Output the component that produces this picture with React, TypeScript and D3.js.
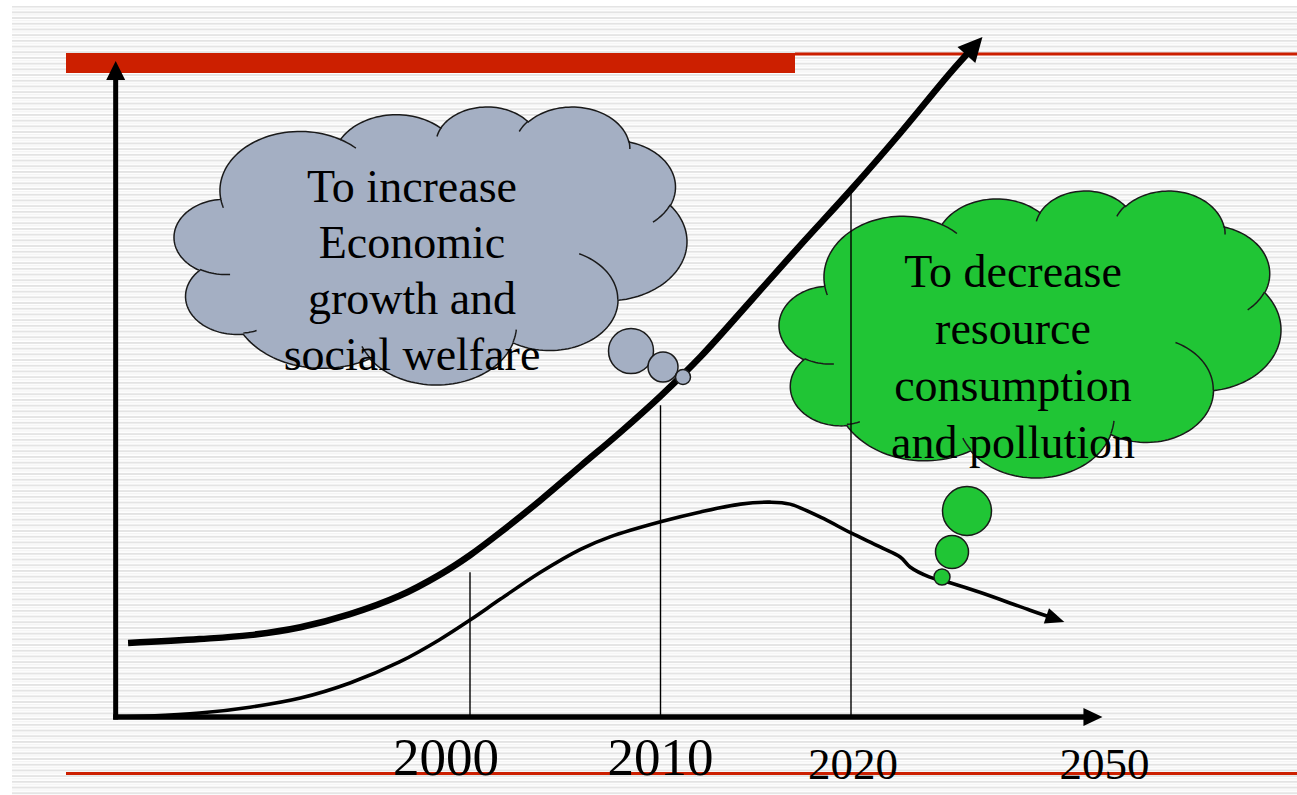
import React from 'react';
import * as d3 from 'd3';

const W = 1297;
const H = 795;

// Upper (thick) curve: economic growth & social welfare
const thickYears = [1982.05, 1985.8, 1988.45, 1991.1, 1993.7, 1996.3, 1998.4, 2000, 2001.6, 2003.7, 2005.8, 2007.9, 2010, 2012.1, 2014.7, 2017.3, 2020, 2022.6, 2025.2, 2026.9];
const thickValues = [11.3, 11.9, 12.5, 13.7, 15.7, 18.5, 21.7, 24.7, 28.2, 33.1, 38.3, 43.5, 49.0, 55.0, 63.4, 71.9, 80.5, 89.2, 98.3, 103.8];

// Lower (thin) curve: resource consumption & pollution
const thinYears = [1981.4, 1983.2, 1985.8, 1988.45, 1991.1, 1993.7, 1996.3, 1998.4, 2000, 2001.6, 2003.7, 2005.8, 2007.35, 2010, 2012.1, 2014.2, 2015.75, 2016.8, 2018.4, 2020, 2021.5, 2022.6, 2023.1, 2024.1, 2025.2, 2026.8, 2029.4, 2031.2];
const thinValues = [0, 0.15, 0.6, 1.5, 2.9, 5.2, 8.4, 11.8, 14.8, 18.0, 22.1, 25.6, 27.5, 29.8, 31.3, 32.5, 32.8, 32.5, 30.5, 28.1, 26.0, 24.4, 22.9, 21.4, 20.5, 19.0, 16.3, 14.5];

// Vertical guide lines
const guideYears = [2000, 2010, 2020];
const guideTops = [22.1, 47.6, 80.5];

// Tick labels
const tickLabels = ['2000', '2010', '2020', '2050'];

// Cloud texts
const grayText = ['To increase', 'Economic', 'growth and', 'social welfare'];
const greenText = ['To decrease', 'resource', 'consumption', 'and pollution'];

// DrawingML preset "cloud" geometry (43200 x 43200 path space)
const CLOUD_START = [3900, 14370];
const CLOUD_ARCS = [
  [6753, 9190, -11429249, 7426832],
  [5333, 7267, -8646143, 5396714],
  [4365, 5945, -8748475, 5983381],
  [4857, 6595, -7859164, 7034504],
  [5333, 7273, -4722533, 6541615],
  [6775, 9220, -2776035, 7816140],
  [5785, 7867, 37501, 6842000],
  [6752, 9215, 1347096, 6910353],
  [7720, 10543, 3974558, 4542661],
  [4360, 5918, -16496525, 8804134],
  [4345, 5945, -14809710, 9151131],
];
const CLOUD_INNER = [
  [4693, 26177, 4345, 5945, 5204520, 1585770],
  [6928, 34899, 4360, 5918, 4416628, 686848],
  [16478, 39090, 6752, 9215, 8257449, 844866],
  [28827, 34751, 6752, 9215, 387196, 959901],
  [34129, 22954, 5785, 7867, -4217541, 4255042],
  [41798, 15354, 5333, 7273, 1819082, 1665090],
  [38324, 5426, 4857, 6595, -824660, 891534],
  [29078, 3952, 4857, 6595, -8950887, 1091722],
  [22141, 4720, 4365, 5945, -9809656, 1061181],
  [14000, 5192, 6753, 9190, -4002417, 739161],
  [4127, 15789, 6753, 9190, 9459261, 711490],
];

function arcPoints(px: number, py: number, wR: number, hR: number, st: number, sw: number): [number, number][] {
  const s = (st / 60000) * Math.PI / 180;
  const e = ((st + sw) / 60000) * Math.PI / 180;
  const t0 = Math.atan2(wR * Math.sin(s), hR * Math.cos(s));
  const cx = px - wR * Math.cos(t0);
  const cy = py - hR * Math.sin(t0);
  const n = Math.max(8, Math.ceil(Math.abs(e - s) / 0.04));
  const pts: [number, number][] = [];
  for (let i = 1; i <= n; i++) {
    const a = s + ((e - s) * i) / n;
    const t = Math.atan2(wR * Math.sin(a), hR * Math.cos(a));
    pts.push([cx + wR * Math.cos(t), cy + hR * Math.sin(t)]);
  }
  return pts;
}

function buildCloud(fx: number, fy: number, fw: number, fh: number) {
  let px = CLOUD_START[0];
  let py = CLOUD_START[1];
  const main: [number, number][] = [[px, py]];
  for (const [wR, hR, st, sw] of CLOUD_ARCS) {
    const pts = arcPoints(px, py, wR, hR, st, sw);
    main.push(...pts);
    [px, py] = pts[pts.length - 1];
  }
  const x0 = d3.min(main, (d) => d[0])!;
  const x1 = d3.max(main, (d) => d[0])!;
  const y0 = d3.min(main, (d) => d[1])!;
  const y1 = d3.max(main, (d) => d[1])!;
  const mx = d3.scaleLinear().domain([x0, x1]).range([fx, fx + fw]);
  const my = d3.scaleLinear().domain([y0, y1]).range([fy, fy + fh]);
  const line = d3.line<[number, number]>().x((d) => mx(d[0])).y((d) => my(d[1]));
  const outline = line(main) + 'Z';
  const inner = CLOUD_INNER.map(([ix, iy, wR, hR, st, sw]) => {
    const start: [number, number] = [ix, iy];
    const pts = arcPoints(ix, iy, wR, hR, st, sw);
    return line([start, ...pts]) as string;
  });
  return { outline, inner };
}

function arrowHead(tip: [number, number], from: [number, number], len: number, half: number) {
  const dx = tip[0] - from[0];
  const dy = tip[1] - from[1];
  const L = Math.hypot(dx, dy);
  const ux = dx / L, uy = dy / L;
  const bx = tip[0] - ux * len, by = tip[1] - uy * len;
  const px = -uy, py = ux;
  return `M${tip[0]},${tip[1]}L${bx + px * half},${by + py * half}L${bx - px * half},${by - py * half}Z`;
}

function curveWithArrow(pts: [number, number][], len: number, half: number) {
  const tip = pts[pts.length - 1];
  const prev = pts[pts.length - 2];
  const dx = tip[0] - prev[0], dy = tip[1] - prev[1];
  const L = Math.hypot(dx, dy);
  const shortened = pts.slice(0, -1);
  shortened.push([tip[0] - (dx / L) * len * 0.6, tip[1] - (dy / L) * len * 0.6]);
  const line = d3.line<[number, number]>().curve(d3.curveCatmullRom.alpha(0.5));
  return { d: line(shortened) as string, head: arrowHead(tip, prev, len, half) };
}

export default function App() {
  const x = d3.scaleLinear().domain([2000, 2020]).range([470, 851]);
  const y = d3.scaleLinear().domain([0, 100]).range([717, 62]);
  const axisStartYear = 1981.4;
  const axisEndYear = 2033.2;

  const ox = x(axisStartYear);
  const oy = y(0);
  const xEnd = x(axisEndYear);
  const yTop = y(100) - 1;

  const thickPts: [number, number][] = thickYears.map((yr, i) => [x(yr), y(thickValues[i])]);
  const thinPts: [number, number][] = thinYears.map((yr, i) => [x(yr), y(thinValues[i])]);
  const thick = curveWithArrow(thickPts, 24, 12);
  const thin = curveWithArrow(thinPts, 19, 8);

  const grayCloud = buildCloud(174, 107, 513, 278);
  const greenCloud = buildCloud(779, 191, 502, 287);

  const labelPos = [
    { x: x(2000) - 24, y: 775, size: 53 },
    { x: x(2010), y: 775, size: 53 },
    { x: x(2020) + 2, y: 779, size: 45 },
    { x: xEnd + 2, y: 779, size: 45 },
  ];

  const font = '"Liberation Serif", "Times New Roman", serif';

  return (
    <svg width={W} height={H} style={{ position: 'absolute', left: 0, top: 0, display: 'block' }}>
      <defs>
        <pattern id="stripes" patternUnits="userSpaceOnUse" width={10} height={5.7}>
          <rect width={10} height={5.7} fill="#ffffff" />
          <rect y={0} width={10} height={1.8} fill="#e3e3e3" />
          <rect y={3.1} width={10} height={1} fill="#f1f1f1" />
        </pattern>
      </defs>
      <rect width={W} height={H} fill="#ffffff" />
      <rect x={12} y={6} width={W - 12} height={H - 6} fill="url(#stripes)" />

      {/* red decoration */}
      <rect x={66} y={53} width={729} height={20} fill="#cc1f00" />
      <line x1={795} x2={W} y1={54} y2={54} stroke="#cc1f00" strokeWidth={3} />
      <line x1={66} x2={W} y1={773.5} y2={773.5} stroke="#cc1f00" strokeWidth={3} />

      {/* curves */}
      <path d={thin.d} fill="none" stroke="#000" strokeWidth={3.6} />
      <path d={thin.head} fill="#000" />
      <path d={thick.d} fill="none" stroke="#000" strokeWidth={6.5} />
      <path d={thick.head} fill="#000" />

      {/* axes */}
      <line x1={ox} x2={ox} y1={oy + 2.5} y2={yTop + 16} stroke="#000" strokeWidth={5} />
      <path d={`M${ox},${yTop}L${ox - 9.5},${yTop + 19}L${ox + 9.5},${yTop + 19}Z`} fill="#000" />
      <line x1={ox - 2.5} x2={xEnd - 16} y1={oy} y2={oy} stroke="#000" strokeWidth={5.5} />
      <path d={`M${xEnd},${oy}L${xEnd - 19},${oy - 9}L${xEnd - 19},${oy + 9}Z`} fill="#000" />

      {/* gray cloud callout */}
      <g stroke="#1a1a1a" strokeWidth={1.5}>
        <path d={grayCloud.outline} fill="#a4afc3" />
        {grayCloud.inner.map((d, i) => (
          <path key={i} d={d} fill="none" />
        ))}
        <circle cx={631} cy={351} r={22.5} fill="#a4afc3" />
        <circle cx={663} cy={367} r={15} fill="#a4afc3" />
        <circle cx={683} cy={377} r={7.5} fill="#a4afc3" />
      </g>

      {/* green cloud callout */}
      <g stroke="#1a1a1a" strokeWidth={1.5}>
        <path d={greenCloud.outline} fill="#20c535" />
        {greenCloud.inner.map((d, i) => (
          <path key={i} d={d} fill="none" />
        ))}
        <circle cx={967} cy={511} r={24.5} fill="#20c535" />
        <circle cx={952} cy={552} r={16.5} fill="#20c535" />
        <circle cx={942} cy={577} r={8} fill="#20c535" />
      </g>

      {/* guide lines */}
      {guideYears.map((yr, i) => (
        <line key={yr} x1={x(yr)} x2={x(yr)} y1={y(guideTops[i])} y2={oy - 2} stroke="#000" strokeWidth={1.4} />
      ))}

      {/* tick labels */}
      {tickLabels.map((t, i) => (
        <text key={t} x={labelPos[i].x} y={labelPos[i].y} fontSize={labelPos[i].size} fontFamily={font} textAnchor="middle" fill="#000">
          {t}
        </text>
      ))}

      {/* cloud texts */}
      {grayText.map((t, i) => (
        <text key={t} x={412} y={202 + i * 56} fontSize={46} fontFamily={font} textAnchor="middle" fill="#000">
          {t}
        </text>
      ))}
      {greenText.map((t, i) => (
        <text key={t} x={1013} y={287 + i * 57} fontSize={46} fontFamily={font} textAnchor="middle" fill="#000">
          {t}
        </text>
      ))}
    </svg>
  );
}
